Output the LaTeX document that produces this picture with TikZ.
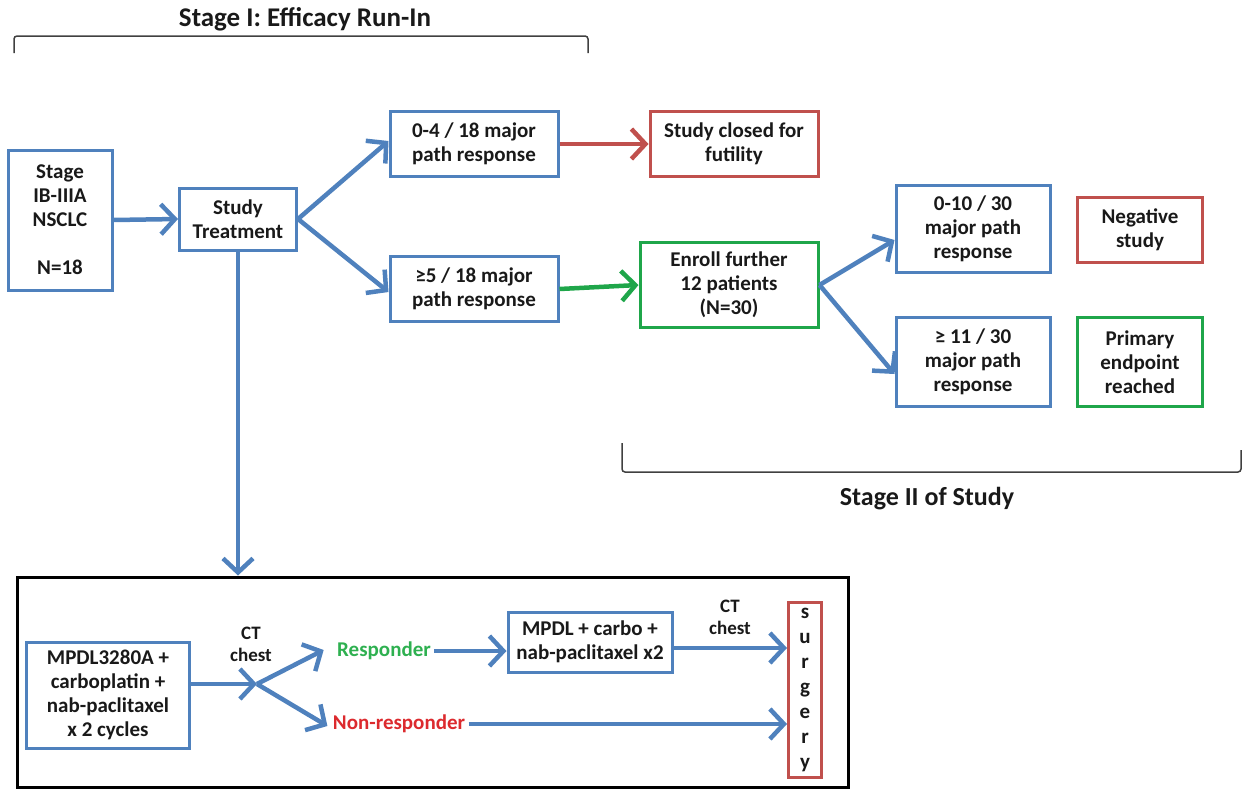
\documentclass[tikz,border=0pt]{standalone}
\usepackage{fontspec}
\setmainfont{Carlito}
\usetikzlibrary{arrows.meta,calc}
\definecolor{oblue}{HTML}{4F81BD}
\definecolor{ored}{HTML}{C0504D}
\definecolor{ogreen}{HTML}{1FA64A}
\definecolor{tgreen}{HTML}{2EB050}
\definecolor{tred}{HTML}{DC2A2E}
\definecolor{brk}{HTML}{404040}
\begin{document}
\begin{tikzpicture}[x=1pt,y=-1pt,
  every node/.style={font=\fontsize{21}{24}\selectfont\bfseries, text=black!90},
  bbox/.style={draw=oblue, line width=3pt, align=center, inner sep=0pt, fill=white},
  rbox/.style={bbox, draw=ored},
  gbox/.style={bbox, draw=ogreen},
  arr/.style={draw=oblue, line width=4.5pt, -{Straight Barb[length=14pt,width=30pt]}},
  rarr/.style={arr, draw=ored},
  garr/.style={arr, draw=ogreen},
  bracket/.style={draw=brk, line width=1.5pt, rounded corners=3pt},
  ctlabel/.style={align=center, font=\fontsize{19}{22}\selectfont\bfseries}
]
\useasboundingbox (0,0) rectangle (1243,790);

% titles and brackets
\node[font=\fontsize{27}{30}\selectfont\bfseries] (t1) at (305,19) {Stage I: Efficacy Run-In};
\draw[bracket] (14,53) -- (14,36) -- (588,36) -- (588,53);
\node[font=\fontsize{26}{30}\selectfont\bfseries] (t2) at (927,499) {Stage II of Study};
\draw[bracket] (622,443) -- (622,472) -- (1241,472) -- (1241,450);

% stage I nodes
\node[bbox, minimum width=104, minimum height=140] (stage) at (60,220)
  {Stage\\IB-IIIA\\NSCLC\\[24pt]N=18};
\node[bbox, minimum width=117, minimum height=62] (treat) at (238,219)
  {Study\\Treatment};
\node[bbox, minimum width=168, minimum height=65] (r1) at (474,144)
  {0-4 / 18 major\\path response};
\node[bbox, minimum width=168, minimum height=65] (r2) at (474,289)
  {≥5 / 18 major\\path response};
\node[rbox, minimum width=168, minimum height=65] (closed) at (734,144)
  {Study closed for\\futility};
\node[gbox, minimum width=178, minimum height=85] (enroll) at (729,285)
  {Enroll further\\12 patients\\(N=30)};
\node[bbox, minimum width=154, minimum height=87] (s1) at (973,229)
  {0-10 / 30\\major path\\response};
\node[bbox, minimum width=154, minimum height=89] (s2) at (973,362)
  {≥ 11 / 30\\major path\\response};
\node[rbox, minimum width=125, minimum height=65] (neg) at (1140,230)
  {Negative\\study};
\node[gbox, minimum width=125, minimum height=89] (prim) at (1140,362)
  {Primary\\endpoint\\reached};

\draw[arr] (stage.east) -- (treat.west);
\draw[arr] (treat.east) -- ([yshift=3]r1.west);
\draw[arr] (treat.east) -- ([yshift=-3]r2.west);
\draw[rarr] (r1.east) -- (closed.west);
\draw[garr] (r2.east) -- (enroll.west);
\draw[arr] (enroll.east) -- ([yshift=-11]s1.west);
\draw[arr] (enroll.east) -- ([yshift=-12]s2.west);

% bottom frame
\node[draw=black, line width=3pt, minimum width=831, minimum height=210, inner sep=0pt] (frame) at (433,682) {};
\draw[arr] (treat.south) -- (treat.south |- frame.north);

\node[bbox, minimum width=163, minimum height=106] (mp) at (108,695)
  {MPDL3280A +\\carboplatin +\\nab-paclitaxel\\x 2 cycles};
\coordinate (split) at (257,684);
\node[ctlabel] (ctA) at (251,644) {CT\\chest};
\node[text=tgreen] (resp) at (384,651) {Responder};
\node[text=tred] (nonresp) at (399,724) {Non-responder};
\node[bbox, minimum width=164, minimum height=60] (mpdl) at (590,642)
  {MPDL + carbo +\\nab-paclitaxel x2};
\node[rbox, minimum width=33, minimum height=175, font=\fontsize{21}{25}\selectfont\bfseries] (surg) at (805,690)
  {s\\u\\r\\g\\e\\r\\y};
\node[ctlabel] (ctB) at (730,617) {CT\\chest};

\draw[arr] (mp.east |- split) -- (split);
\draw[arr] (split) -- ([xshift=-10,yshift=1]resp.west);
\draw[arr] (split) -- ([xshift=-2,yshift=-2]nonresp.west);
\draw[arr] (resp.east) -- (resp.east -| mpdl.west);
\draw[arr] (mpdl.east |- 0,648) -- (surg.west |- 0,648);
\draw[arr] (nonresp.east) -- (nonresp.east -| surg.west);
\end{tikzpicture}
\end{document}
